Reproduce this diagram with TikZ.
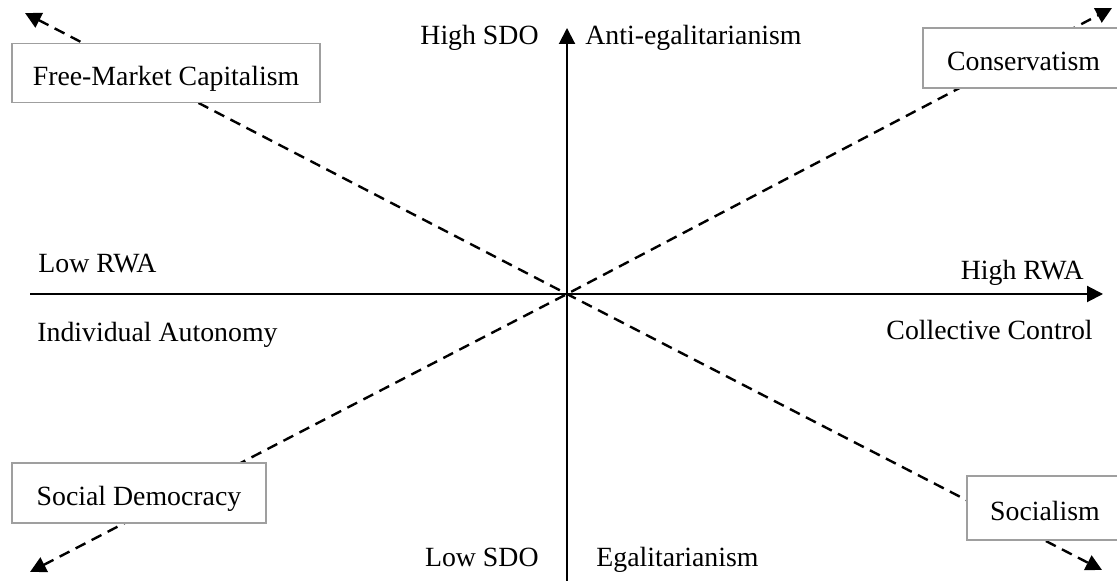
\documentclass[tikz,border=0pt]{standalone}
\usepackage{fontspec}
\setmainfont{Liberation Serif}
\usetikzlibrary{arrows.meta, positioning}

\begin{document}
\begin{tikzpicture}[
    x=0.5pt, y=-0.5pt,
    font=\fontsize{13.9}{16}\selectfont,
    box/.style={draw=gray!75, line width=0.6pt, fill=white, inner sep=0pt, align=center, text height=12.5pt, text depth=0pt},
    lbl/.style={inner sep=0pt},
    axis/.style={-{Triangle[length=8pt, width=8pt]}, line width=1pt},
    dline/.style={{Triangle[length=8pt, width=8pt]}-{Triangle[length=8pt, width=8pt]}, dash pattern=on 5.5pt off 3.5pt, line width=1.2pt},
]
\useasboundingbox (0,0) rectangle (1117,581);

% axes and corner points
\coordinate (o)  at (567,294);
\coordinate (xl) at (30,294);
\coordinate (xr) at (1103,294);
\coordinate (yb) at (567,590);
\coordinate (yt) at (567,28);
\coordinate (tl) at (25,13);
\coordinate (tr) at (1112,8);
\coordinate (bl) at (30,572);
\coordinate (br) at (1102,570);

\draw[dline] (tl) -- (o) -- (br);
\draw[dline] (bl) -- (o) -- (tr);

\draw[axis] (xl) -- (xr);
\draw[axis] (yb) -- (yt);

% quadrant boxes
\node[box, minimum width=154pt, minimum height=29.5pt] (fmc) at (166,73)    {Free-Market Capitalism};
\node[box, minimum width=100.5pt, minimum height=30pt] (cons) at (1023.5,58) {Conservatism};
\node[box, minimum width=127pt, minimum height=30pt] (sd)  at (139,493)    {Social Democracy};
\node[box, minimum width=78pt, minimum height=32pt]  (soc) at (1045,508)   {Socialism};

% axis labels
\node[lbl, anchor=base east] (hsdo) at (539,45)  {High SDO};
\node[lbl, anchor=base west] (anti) at (585,45)  {Anti-egalitarianism};
\node[lbl, anchor=base east] (lsdo) at (539,567) {Low SDO};
\node[lbl, anchor=base west] (egal) at (596,567) {Egalitarianism};
\node[lbl, anchor=base west] (lrwa) at (38,273)  {Low RWA};
\node[lbl, anchor=base east] (hrwa) at (1084,280) {High RWA};
\node[lbl, anchor=base west] (ind)  at (37,342)  {Individual Autonomy};
\node[lbl, anchor=base east] (coll) at (1093,340) {Collective Control};

\end{tikzpicture}
\end{document}
